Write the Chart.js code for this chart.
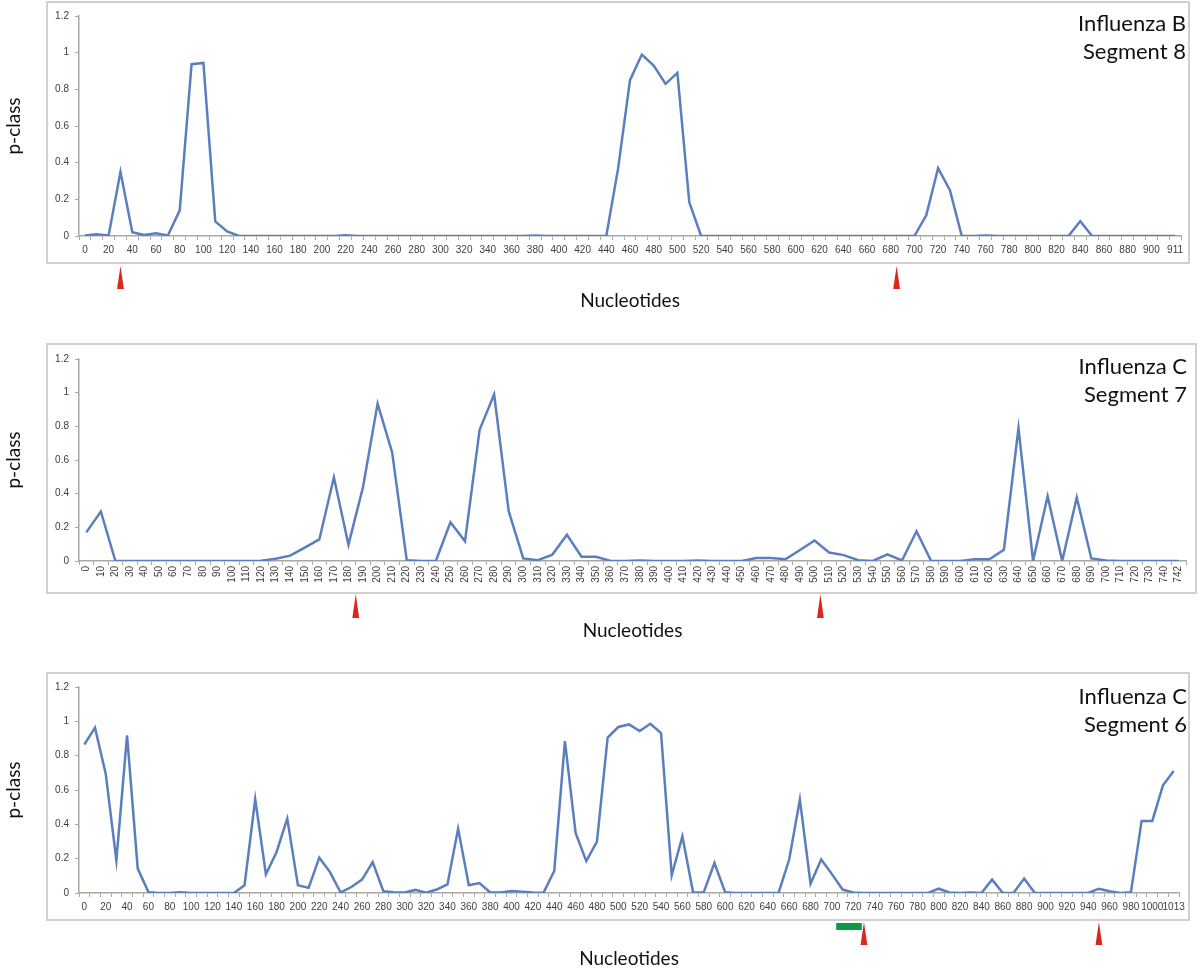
<!DOCTYPE html>
<html><head><meta charset="utf-8">
<script src="https://cdn.jsdelivr.net/npm/chart.js@4.4.1/dist/chart.umd.min.js"></script>
<style>
body{margin:0;background:#fff;width:1200px;height:971px;overflow:hidden;position:relative;font-family:Lato}
.box{position:absolute;border:2px solid #d3cfc9;box-sizing:border-box}
.wrap{position:absolute;left:0;width:1200px}
.note{position:absolute;font-family:Lato;font-size:22px;line-height:28px;text-align:right;color:#111;white-space:nowrap}
</style></head>
<body>
<div class="box" style="left:46px;top:1px;width:1144px;height:263px"></div>
<div class="box" style="left:46px;top:343px;width:1151px;height:251px"></div>
<div class="box" style="left:46px;top:672px;width:1144px;height:249px"></div>
<div class="wrap" style="top:0;height:320px"><canvas id="c1" width="1200" height="320"></canvas></div>
<div class="wrap" style="top:330px;height:320px"><canvas id="c2" width="1200" height="320"></canvas></div>
<div class="wrap" style="top:650px;height:321px"><canvas id="c3" width="1200" height="321"></canvas></div>
<div class="note" style="right:14px;top:9px">Influenza B<br>Segment 8</div>
<div class="note" style="right:13px;top:352px">Influenza C<br>Segment 7</div>
<div class="note" style="right:13px;top:682px">Influenza C<br>Segment 6</div>
<script>
// ---- data ----
function steps(last, end){ const a=[]; for(let v=0; v<=last; v+=10) a.push(String(v)); a.push(String(end)); return a; }
const labelsB8 = steps(910, 911);
const valuesB8 = [
 0.003,0.01,0.003,0.35,0.02,0.005,0.015,0.003,0.14,0.937, // 0-90
 0.944,0.08,0.025,0,0,0,0,0,0,0,                          // 100-190
 0,0,0.004,0,0,0,0,0,0,0,                                 // 200-290
 0,0,0,0,0,0,0,0,0.003,0,                                 // 300-390
 0,0,0,0,0,0.37,0.85,0.99,0.93,0.83,                      // 400-490
 0.89,0.185,0,0,0,0,0,0,0,0,                              // 500-590
 0,0,0,0,0,0,0,0,0,0,                                     // 600-690
 0,0.113,0.37,0.25,0,0,0.003,0,0,0,                       // 700-790
 0,0,0,0,0.08,0,0,0,0,0,                                  // 800-890
 0,0,0                                                    // 900,910,911
];
const labelsC7 = steps(740, 742);
const valuesC7 = [
 0.17,0.294,0,0,0,0,0,0,0,0,                              // 0-90
 0,0,0.002,0.013,0.032,0.08,0.128,0.497,0.097,0.44,       // 100-190
 0.935,0.645,0.005,0,0,0.23,0.117,0.778,0.99,0.296,       // 200-290
 0.015,0.005,0.038,0.156,0.025,0.025,0,0,0.003,0,         // 300-390
 0,0,0.003,0,0,0,0.018,0.018,0.01,0.065,                  // 400-490
 0.122,0.05,0.035,0.005,0,0.04,0.003,0.177,0,0,           // 500-590
 0,0.01,0.01,0.067,0.79,0,0.385,0,0.378,0.015,            // 600-690
 0.003,0,0,0,0,0                                          // 700-740,742
];
const labelsC6 = steps(1010, 1013);
const valuesC6 = [
 0.865,0.963,0.695,0.19,0.918,0.142,0.005,0,0,0.005,      // 0-90
 0,0,0,0,0,0.045,0.546,0.109,0.239,0.433,                 // 100-190
 0.045,0.03,0.206,0.122,0.003,0.035,0.078,0.18,0.01,0.005,// 200-290
 0.003,0.018,0.002,0.02,0.05,0.375,0.045,0.058,0.003,0.003,// 300-390
 0.012,0.008,0.003,0.002,0.128,0.885,0.35,0.186,0.30,0.905,// 400-490
 0.967,0.982,0.943,0.986,0.932,0.103,0.33,0.003,0.005,0.175,// 500-590
 0.005,0,0,0,0,0,0.195,0.544,0.055,0.195,                 // 600-690
 0.11,0.02,0.003,0,0,0,0,0,0,0,                           // 700-790
 0.025,0.003,0,0.003,0,0.078,0,0,0.084,0,                 // 800-890
 0,0,0,0,0,0.025,0.01,0,0.005,0.42,                       // 900-990
 0.42,0.627,0.71                                          // 1000,1010,1013
];
const yTicks = [0,0.2,0.4,0.6,0.8,1,1.2];
const yTickLabels = ['0','0.2','0.4','0.6','0.8','1','1.2'];
const arrowsB8 = [30, 685];
const arrowsC7 = [185, 504];
const arrowsC6 = [730, 950];
const barsC6 = [[704, 728]];

// ---- plugin: red arrow markers and green bar under the x axis ----
const markerPlugin = {
  id: 'markers',
  afterDraw(chart, args, o) {
    const {ctx, chartArea, scales: {x}} = chart;
    const px = nt => x.getPixelForValue(nt / 10);
    const b = chartArea.bottom;
    ctx.save();
    ctx.fillStyle = '#0c9a48';
    (o.bars || []).forEach(([s, e]) => {
      ctx.fillRect(px(s), b + o.barTop, px(e) - px(s), o.barH);
    });
    ctx.fillStyle = '#d8281e';
    (o.arrows || []).forEach(nt => {
      const cx = px(nt);
      ctx.beginPath();
      ctx.moveTo(cx, b + o.top);
      ctx.lineTo(cx + 3.4, b + o.bottom);
      ctx.lineTo(cx - 3.4, b + o.bottom);
      ctx.closePath();
      ctx.fill();
    });
    ctx.restore();
  }
};

const axisColor = '#aca79f';
const tickFont = {family: 'Liberation Sans', size: 10};
const tickColor = '#404040';

function makeChart(id, labels, values, cfg) {
  return new Chart(document.getElementById(id), {
    type: 'line',
    data: { labels, datasets: [{
      data: values, borderColor: '#5b7fbd', borderWidth: 2.5,
      pointRadius: 0, tension: 0, fill: false
    }]},
    options: {
      responsive: false, animation: false,
      layout: { padding: cfg.padding },
      plugins: { legend: {display: false}, tooltip: {enabled: false},
        markers: cfg.markers },
      scales: {
        x: {
          type: 'category', offset: true,
          grid: { drawOnChartArea: false, offset: true, tickLength: 4, color: axisColor, lineWidth: 1 },
          border: { color: axisColor, width: 1.5 },
          ticks: Object.assign({ autoSkip: false, font: tickFont, color: tickColor, padding: cfg.tickPad }, cfg.ticks),
          title: { display: true, text: 'Nucleotides', font: {family: 'Lato', size: 19}, color: '#111', padding: 0 },
          afterFit: s => { s.height = cfg.xh; }
        },
        y: {
          min: 0, max: 1.2,
          afterBuildTicks: s => { s.ticks = yTicks.map(v => ({value: v})); },
          grid: { drawOnChartArea: false, tickLength: 4, color: axisColor, lineWidth: 1 },
          border: { color: axisColor, width: 1.5 },
          ticks: { font: tickFont, color: tickColor, padding: 6,
            callback: (v, i) => yTickLabels[i] },
          title: { display: true, text: 'p-class', font: {family: 'Lato', size: 19}, color: '#111', padding: {top: 2, bottom: 0} },
          afterFit: s => { s.width = 79; }
        }
      }
    },
    plugins: [markerPlugin]
  });
}

const everyOther = { maxRotation: 0, minRotation: 0,
  callback: function(v, i) { return i % 2 === 0 ? this.getLabelForValue(v) : ''; } };

makeChart('c1', labelsB8, valuesB8, {
  padding: {top: 16, right: 19, bottom: 8, left: 0}, xh: 76, tickPad: 4,
  ticks: everyOther,
  markers: {arrows: arrowsB8, top: 30, bottom: 53}
});
makeChart('c2', labelsC7, valuesC7, {
  padding: {top: 29, right: 14, bottom: 8, left: 0}, xh: 81, tickPad: 1,
  ticks: { maxRotation: 90, minRotation: 90 },
  markers: {arrows: arrowsC7, top: 33, bottom: 57}
});
makeChart('c3', labelsC6, valuesC6, {
  padding: {top: 37, right: 21, bottom: 1, left: 0}, xh: 77, tickPad: 4,
  ticks: everyOther,
  markers: {arrows: arrowsC6, top: 29, bottom: 52, bars: barsC6, barTop: 30, barH: 7}
});
</script>
</body></html>
